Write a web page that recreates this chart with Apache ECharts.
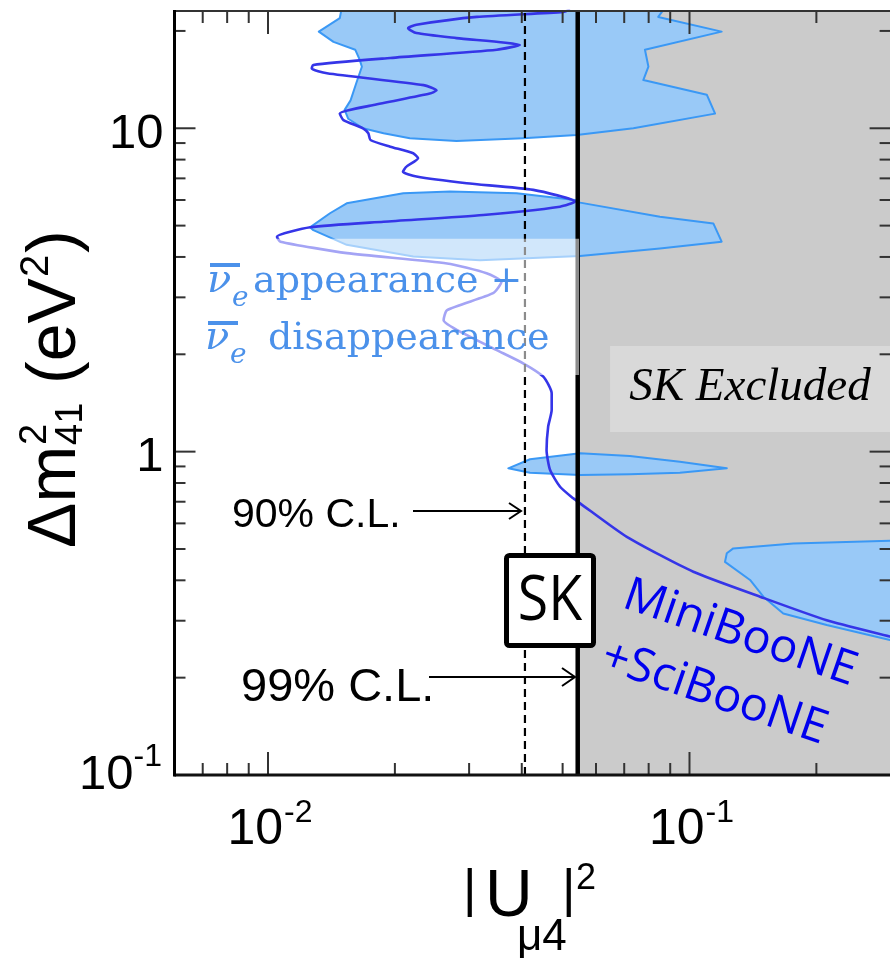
<!DOCTYPE html>
<html><head><meta charset="utf-8">
<script src="https://cdn.jsdelivr.net/npm/echarts@6/dist/echarts.min.js"></script>
<style>html,body{margin:0;padding:0;background:#fff}#c{width:890px;height:961px}</style>
</head><body><div id="c"></div>
<script>
// ---- axes ----
const xRange = [0.006, 0.3];
const yRange = [0.1, 23.05];
const xMajorTicks = [0.01, 0.1];
const xMinorTicks = [0.007, 0.008, 0.009, 0.02, 0.03, 0.04, 0.05, 0.06, 0.07, 0.08, 0.09, 0.2];
const yMajorTicks = [0.1, 1, 10];
const yMinorTicks = [0.2, 0.3, 0.4, 0.5, 0.6, 0.7, 0.8, 0.9, 2, 3, 4, 5, 6, 7, 8, 9, 20];
const xTickLabels = [[0.01, '10', '-2'], [0.1, '10', '-1']];
const yTickLabels = [[0.1, '10', '-1'], [1, '1', ''], [10, '10', '']];

// ---- SK limits on |U_mu4|^2 ----
const skLimit90 = 0.0407;
const skLimit99 = 0.0543;

// ---- anti-nu_e appearance + disappearance allowed regions ----
const allowedTop = [[0.0150, 24], [0.0148, 21.9], [0.0132, 19.9], [0.0143, 18.5], [0.0161, 17.5], [0.0165, 16.3], [0.0167, 15.5], [0.0162, 13.8], [0.0157, 12.2], [0.0152, 11.4], [0.0155, 10.7], [0.0168, 10.0], [0.0188, 9.65], [0.0217, 9.31], [0.0280, 9.13], [0.0403, 9.31], [0.0540, 9.53], [0.0736, 10.0], [0.1150, 11.1], [0.1099, 12.7], [0.0777, 14.1], [0.0799, 15.5], [0.0784, 17.5], [0.1192, 19.9], [0.0843, 22.1], [0.0883, 24]];
const allowedMid = [[0.01258, 4.94], [0.01403, 5.46], [0.01537, 5.86], [0.02094, 6.30], [0.02703, 6.37], [0.0389, 6.30], [0.0535, 6.00], [0.0550, 5.89], [0.0851, 5.33], [0.1139, 5.08], [0.1192, 4.46], [0.0851, 4.25], [0.0550, 4.03], [0.03184, 3.91], [0.02211, 4.01], [0.01537, 4.36], [0.01281, 4.84]];
const allowedNarrow = [[0.03716, 0.888], [0.04184, 0.947], [0.0550, 0.988], [0.0722, 0.969], [0.0949, 0.931], [0.1226, 0.888], [0.0949, 0.860], [0.0722, 0.852], [0.0550, 0.846], [0.04184, 0.860]];
const allowedLow = [[0.1226, 0.485], [0.1270, 0.502], [0.1763, 0.520], [0.299, 0.530], [0.35, 0.532], [0.35, 0.255], [0.299, 0.2615], [0.2116, 0.291], [0.1669, 0.316], [0.1497, 0.356], [0.1392, 0.401], [0.1214, 0.456]];

// ---- MiniBooNE + SciBooNE limit curve ----
const mbLine = [[0.0521, 23.3], [0.0502, 22.9], [0.0313, 22.1], [0.0225, 20.9], [0.0215, 20.4], [0.0225, 19.7], [0.0280, 19.0], [0.0396, 18.1], [0.0349, 17.5], [0.0195, 16.5], [0.0128, 15.7], [0.0127, 15.3], [0.0138, 14.8], [0.0234, 13.6], [0.0251, 13.1], [0.0242, 12.8], [0.0178, 11.8], [0.0148, 11.1], [0.0151, 10.6], [0.0168, 10.0], [0.0173, 9.65], [0.0175, 9.2], [0.0195, 8.77], [0.0221, 8.37], [0.0227, 8.08], [0.0213, 7.61], [0.0209, 7.34], [0.0225, 7.09], [0.0296, 6.76], [0.0426, 6.45], [0.0535, 5.93], [0.0493, 5.72], [0.0324, 5.39], [0.0188, 5.14], [0.0126, 4.94], [0.0105, 4.62], [0.0107, 4.46], [0.0154, 4.11], [0.0266, 3.82], [0.0330, 3.56], [0.0358, 3.35], [0.0342, 3.09], [0.0266, 2.74], [0.0261, 2.55], [0.0291, 2.32], [0.0349, 2.06], [0.0403, 1.876], [0.0450, 1.705], [0.0471, 1.514], [0.0471, 1.345], [0.0462, 1.194], [0.0458, 1.011], [0.0467, 0.877], [0.0493, 0.779], [0.0530, 0.717], [0.0550, 0.692], [0.0710, 0.545], [0.1021, 0.425], [0.147, 0.356], [0.2116, 0.301], [0.299, 0.268], [0.3335, 0.258]];

// ---- annotation boxes (data coords) ----
const legendBox = [[0.0067, 1.726], [0.0547, 4.55]];
const excludedBox = [[0.0648, 1.15], [0.3, 2.121]];

function rectPts(b) { return [[b[0][0], b[0][1]], [b[1][0], b[0][1]], [b[1][0], b[1][1]], [b[0][0], b[1][1]]]; }
function polySeries(name, pts, fill, stroke, lw, z) {
  return {
    type: 'custom', name: name, coordinateSystem: 'cartesian2d', silent: true, clip: true, z: z,
    data: [pts[0]],
    renderItem: function (params, api) {
      return { type: 'polygon', shape: { points: pts.map(function (p) { return api.coord(p); }) },
        style: { fill: fill, stroke: stroke || null, lineWidth: lw || 0, lineJoin: 'round' } };
    }
  };
}

const chart = echarts.init(document.getElementById('c'));
const SANS = '"Liberation Sans", Arial, Helvetica, sans-serif';
const K = 0.33;

const excludedRegion = [[skLimit99, yRange[0]], [xRange[1], yRange[0]], [xRange[1], yRange[1]], [skLimit99, yRange[1]]];
const blueFill = '#99c9f7', blueEdge = '#3a98f5';

const series = [
  polySeries('SK excluded', excludedRegion, '#cbcbcb', null, 0, 1),
  polySeries('SK excluded label', rectPts(excludedBox), '#d9d9d9', null, 0, 2),
  polySeries('allowed1', allowedTop, blueFill, blueEdge, 2, 3),
  polySeries('allowed2', allowedMid, blueFill, blueEdge, 2, 3),
  polySeries('allowed3', allowedNarrow, blueFill, blueEdge, 2, 3),
  polySeries('allowed4', allowedLow, blueFill, blueEdge, 2, 3),
  { type: 'line', name: 'MiniBooNE+SciBooNE', data: mbLine, showSymbol: false, smooth: 0.2, z: 5, silent: true,
    lineStyle: { color: '#3535e8', width: 2.6 } },
  { type: 'line', name: '90% CL', data: [[skLimit90, yRange[0]], [skLimit90, yRange[1]]], showSymbol: false, z: 6, silent: true,
    lineStyle: { color: '#000', width: 2.2, type: [8, 5] } },
  { type: 'line', name: '99% CL', data: [[skLimit99, yRange[0]], [skLimit99, yRange[1]]], showSymbol: false, z: 6, silent: true,
    lineStyle: { color: '#000', width: 4.5 } },
  polySeries('legend box', rectPts(legendBox), 'rgba(255,255,255,0.55)', null, 0, 10),
  { type: 'custom', name: 'frame', coordinateSystem: 'cartesian2d', silent: true, clip: false, z: 15,
    data: [[xRange[0], yRange[0]]],
    renderItem: function (params, api) {
      const bl = api.coord([xRange[0], yRange[0]]), tr = api.coord([xRange[1], yRange[1]]);
      const x0 = bl[0], y0 = bl[1], x1 = tr[0], y1 = tr[1];
      const ch = [];
      function L(a, b, c, d, w, col) { ch.push({ type: 'line', shape: { x1: a, y1: b, x2: c, y2: d }, style: { stroke: col, lineWidth: w } }); }
      xMajorTicks.forEach(function (v) { const x = api.coord([v, yRange[0]])[0]; L(x, y0, x, y0 - 23, 2, '#333'); L(x, y1, x, y1 + 23, 2, '#333'); });
      xMinorTicks.forEach(function (v) { const x = api.coord([v, yRange[0]])[0]; L(x, y0, x, y0 - 12, 2, '#333'); L(x, y1, x, y1 + 12, 2, '#333'); });
      yMajorTicks.forEach(function (v) { const y = api.coord([xRange[0], v])[1]; L(x0, y, x0 + 21, y, 2, '#333'); L(x1, y, x1 - 21, y, 2, '#333'); });
      yMinorTicks.forEach(function (v) { const y = api.coord([xRange[0], v])[1]; L(x0, y, x0 + 11, y, 2, '#333'); L(x1, y, x1 - 11, y, 2, '#333'); });
      L(x0, y1, x1 + 2, y1, 2, '#333');
      L(x0, y0, x1 + 2, y0, 3, '#111');
      L(x0, y1 - 1, x0, y0 + 1.5, 3, '#000');
      // tick labels
      xTickLabels.forEach(function (t) {
        const x = api.coord([t[0], yRange[0]])[0];
        ch.push({ type: 'text', x: x + 15, y: y0 + 55, style: { text: t[1], fontSize: 50, fontFamily: SANS, fill: '#000', align: 'right', verticalAlign: 'middle' } });
        ch.push({ type: 'text', x: x + 16, y: y0 + 38, style: { text: t[2], fontSize: 32, fontFamily: SANS, fill: '#000', align: 'left', verticalAlign: 'middle' } });
      });
      yTickLabels.forEach(function (t) {
        const y = api.coord([xRange[0], t[0]])[1];
        if (t[2]) {
          ch.push({ type: 'text', x: x0 - 41, y: y, style: { text: t[1], fontSize: 49, fontFamily: SANS, fill: '#000', align: 'right', verticalAlign: 'middle' } });
          ch.push({ type: 'text', x: x0 - 41, y: y - 18, style: { text: t[2], fontSize: 32, fontFamily: SANS, fill: '#000', align: 'left', verticalAlign: 'middle' } });
        } else {
          ch.push({ type: 'text', x: x0 - 11, y: y + 6, style: { text: t[1], fontSize: 49, fontFamily: SANS, fill: '#000', align: 'right', verticalAlign: 'middle' } });
        }
      });
      return { type: 'group', children: ch };
    }
  }
];

function txt(text, x, y, size, opts) {
  opts = opts || {};
  return { type: 'text', x: x, y: y, z: opts.z || 30, rotation: opts.rotation || 0, scaleX: opts.scaleX || 1,
    style: { text: text, fontSize: size, fontFamily: opts.family || SANS, fontStyle: opts.style || 'normal',
      fill: opts.fill || '#000', align: opts.align || 'left', verticalAlign: 'middle' } };
}
const SERIF = '"DejaVu Serif", serif';
const legendBlue = '#4b91ea';
const rot = -19 * Math.PI / 180;

const graphic = [
  // legend text
  { type: 'rect', z: 30, shape: { x: 210, y: 263, width: 30, height: 4 }, style: { fill: legendBlue } },
  txt('ν', 207, 295 - K * 40, 40, { family: SERIF, style: 'italic', fill: legendBlue }),
  txt('e', 232, 308 - K * 28, 28, { family: SERIF, style: 'italic', fill: legendBlue }),
  txt('appearance +', 253, 295 - K * 38, 38, { family: SERIF, fill: legendBlue }),
  { type: 'rect', z: 30, shape: { x: 208, y: 321, width: 30, height: 4 }, style: { fill: legendBlue } },
  txt('ν', 205, 352 - K * 40, 40, { family: SERIF, style: 'italic', fill: legendBlue }),
  txt('e', 230, 365 - K * 28, 28, { family: SERIF, style: 'italic', fill: legendBlue }),
  txt('disappearance', 268, 352 - K * 38, 38, { family: SERIF, fill: legendBlue }),
  // SK excluded
  txt('SK Excluded', 750, 403 - K * 47, 47, { family: '"Liberation Serif", "Times New Roman", serif', style: 'italic', align: 'center' }),
  // CL labels and arrows
  txt('90% C.L.', 232, 529 - K * 41, 41),
  { type: 'line', z: 30, shape: { x1: 413, y1: 511, x2: 521, y2: 511 }, style: { stroke: '#000', lineWidth: 2 } },
  { type: 'polyline', z: 30, shape: { points: [[509, 503], [521, 511], [509, 519]] }, style: { stroke: '#000', lineWidth: 2, fill: null } },
  txt('99% C.L.', 241, 704 - K * 47, 47),
  { type: 'line', z: 30, shape: { x1: 429, y1: 677, x2: 575, y2: 677 }, style: { stroke: '#000', lineWidth: 2 } },
  { type: 'polyline', z: 30, shape: { points: [[562, 668], [575, 677], [562, 686]] }, style: { stroke: '#000', lineWidth: 2, fill: null } },
  // SK box
  { type: 'rect', z: 40, shape: { x: 506.5, y: 555.5, width: 87, height: 90, r: 3 }, style: { fill: '#fff', stroke: '#000', lineWidth: 5 } },
  txt('SK', 550, 602, 63, { family: '"Open Sans", sans-serif', align: 'center', z: 41, scaleX: 0.88 }),
  // MiniBooNE + SciBooNE
  txt('MiniBooNE', 625, 594, 47, { family: '"Open Sans", sans-serif', fill: '#0000ee', rotation: rot }),
  txt('+SciBooNE', 603, 655, 47, { family: '"Open Sans", sans-serif', fill: '#0000ee', rotation: rot }),
  // y axis title
  { type: 'group', x: 79, y: 548, rotation: Math.PI / 2, z: 30, children: [
    txt('Δm', 0, -K * 68, 68),
    txt('2', 103, -31 - K * 38, 38),
    txt('41', 103, 5 - K * 38, 38),
    txt('(eV', 164, -K * 68, 68),
    txt('2', 271, -29 - K * 40, 40),
    txt(')', 295, -K * 68, 68)
  ] },
  // x axis title
  txt('|', 463, 909 - K * 52, 52),
  txt('U', 485, 920 - K * 66, 66),
  txt('μ4', 517, 952 - K * 44, 44),
  txt('|', 562, 909 - K * 52, 52),
  txt('2', 576, 891 - K * 36, 36)
];

chart.setOption({
  animation: false,
  backgroundColor: '#fff',
  grid: { left: 174.5, top: 11, width: 716.1, height: 764, containLabel: false, outerBoundsMode: 'none', show: false },
  xAxis: { type: 'log', logBase: 10, min: xRange[0], max: xRange[1], axisLine: { show: false }, axisTick: { show: false }, axisLabel: { show: false }, splitLine: { show: false } },
  yAxis: { type: 'log', logBase: 10, min: yRange[0], max: yRange[1], axisLine: { show: false }, axisTick: { show: false }, axisLabel: { show: false }, splitLine: { show: false } },
  series: series,
  graphic: graphic
});
</script></body></html>
